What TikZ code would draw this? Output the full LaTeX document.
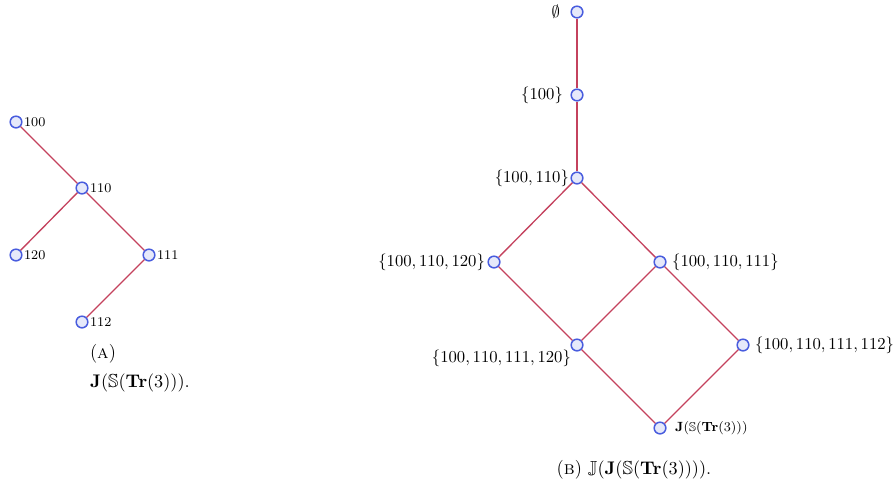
\documentclass[tikz,border=0pt]{standalone}
\usepackage{amsmath,amssymb}
\definecolor{edgec}{RGB}{196,66,94}
\definecolor{nodeb}{RGB}{72,92,222}
\definecolor{nodef}{RGB}{230,233,250}
\tikzset{
  vtx/.style={circle,draw=nodeb,fill=nodef,line width=0.9pt,minimum size=7pt,inner sep=0pt},
  edg/.style={draw=edgec,line width=0.8pt},
  slbl/.style={font=\footnotesize,inner sep=0.5pt},
  lbl/.style={inner sep=0.5pt},
  captxt/.style={inner sep=0.5pt,font=\fontsize{11.3}{13}\selectfont}
}
\begin{document}
\begin{tikzpicture}[x=0.6pt,y=-0.6pt]
\useasboundingbox (0,0) rectangle (893,489);
% left tree
\node[vtx] (a100) at (16,122) {};
\node[vtx] (a110) at (82,188) {};
\node[vtx] (a120) at (16,255) {};
\node[vtx] (a111) at (149,255) {};
\node[vtx] (a112) at (82,322) {};
\draw[edg] (a100) -- (a110);
\draw[edg] (a110) -- (a120);
\draw[edg] (a110) -- (a111);
\draw[edg] (a111) -- (a112);
\node[slbl,anchor=west] (l100) at (23,122) {100};
\node[slbl,anchor=west] (l110) at (89,188) {110};
\node[slbl,anchor=west] (l120) at (23,255) {120};
\node[slbl,anchor=west] (l111) at (156,255) {111};
\node[slbl,anchor=west] (l112) at (89,322) {112};
\node[captxt] (capA) at (103,354) {(\textsc{a})};
\node[captxt,anchor=west] (capA2) at (89,383) {$\mathbf{J}(\mathbb{S}(\mathbf{Tr}(3)))$.};
% right lattice
\node[vtx] (b0) at (577,12) {};
\node[vtx] (b1) at (577,95) {};
\node[vtx] (b2) at (577,178) {};
\node[vtx] (b3) at (494,262) {};
\node[vtx] (b4) at (660,262) {};
\node[vtx] (b5) at (577,345) {};
\node[vtx] (b6) at (743,345) {};
\node[vtx] (b7) at (660,428) {};
\draw[edg] (b0) -- (b1);
\draw[edg] (b1) -- (b2);
\draw[edg] (b2) -- (b3);
\draw[edg] (b2) -- (b4);
\draw[edg] (b3) -- (b5);
\draw[edg] (b4) -- (b5);
\draw[edg] (b4) -- (b6);
\draw[edg] (b5) -- (b7);
\draw[edg] (b6) -- (b7);
\node[lbl,anchor=east] (m0) at (561,12) {$\emptyset$};
\node[lbl,anchor=east] (m1) at (564,95) {$\{100\}$};
\node[lbl,anchor=east] (m2) at (570,178) {$\{100,110\}$};
\node[lbl,anchor=east] (m3) at (486,262) {$\{100,110,120\}$};
\node[lbl,anchor=west] (m4) at (671,262) {$\{100,110,111\}$};
\node[lbl,anchor=east] (m5) at (572,358) {$\{100,110,111,120\}$};
\node[lbl,anchor=west] (m6) at (754,345) {$\{100,110,111,112\}$};
\node[lbl,anchor=west,font=\fontsize{7.6}{9}\selectfont] (m7) at (674,428) {$\mathbf{J}(\mathbb{S}(\mathbf{Tr}(3)))$};
\node[captxt] (capB) at (634,470) {(\textsc{b}) $\mathbb{J}(\mathbf{J}(\mathbb{S}(\mathbf{Tr}(3))))$.};
\end{tikzpicture}
\end{document}
